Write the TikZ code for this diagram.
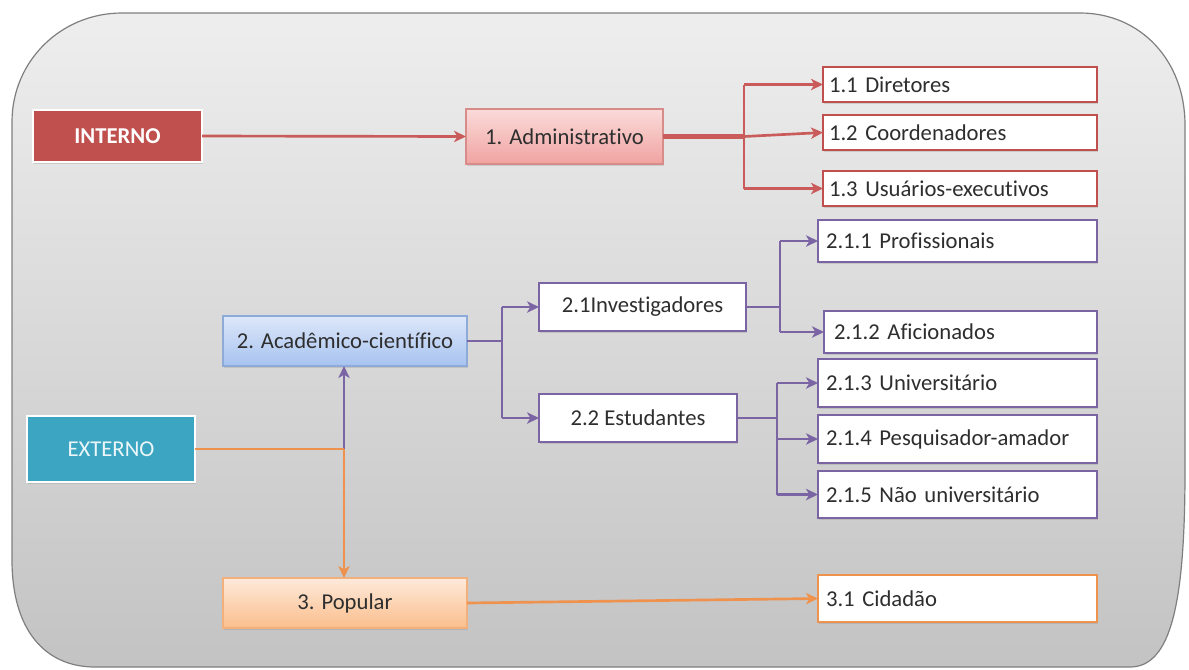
\documentclass[tikz,border=0pt]{standalone}
\usepackage{fontspec}
\setmainfont{Carlito}[Ligatures={NoCommon}]
\usetikzlibrary{arrows.meta,shadows,calc}
\definecolor{redA}{HTML}{C0504D}
\definecolor{redL}{HTML}{C95C5A}
\definecolor{redB}{HTML}{D88C8A}
\definecolor{purp}{HTML}{7B64A3}
\definecolor{orng}{HTML}{EE924E}
\definecolor{orngB}{HTML}{F2B07C}
\definecolor{tealA}{HTML}{3CA6C2}
\definecolor{txt}{HTML}{2E2E2E}
\definecolor{bgT}{HTML}{EEEEEE}
\definecolor{bgB}{HTML}{C3C3C3}
\definecolor{bgD}{HTML}{7F7F7F}
\definecolor{admT}{HTML}{FADBDA}
\definecolor{admB}{HTML}{F0A3A1}
\definecolor{acdT}{HTML}{DDE7F9}
\definecolor{acdB}{HTML}{A7C3F0}
\definecolor{acdD}{HTML}{8EAAD8}
\definecolor{popT}{HTML}{FDEADB}
\definecolor{popB}{HTML}{FBBE8C}
\begin{document}
\begin{tikzpicture}[x=0.75pt,y=-0.75pt,
  font=\fontsize{17}{20}\selectfont, text=txt,
  base/.style={draw, line width=1.8pt, inner ysep=0pt, outer sep=0pt,
    drop shadow={opacity=0.25, shadow xshift=1pt, shadow yshift=-1.5pt}},
  hdr/.style={base, draw=white, line width=2pt, text=white},
  mid/.style={base, align=center},
  leafr/.style={base, fill=white, draw=redA, inner xsep=4.5pt, text width=196.5pt, align=left, minimum height=26.25pt},
  leafp/.style={base, fill=white, draw=purp, inner xsep=6pt, align=left},
  leafo/.style={base, fill=white, draw=orng, inner xsep=6pt, align=left},
  tip/.style={-{Stealth[length=9pt,width=8.5pt,inset=2.5pt]}},
  rl/.style={draw=redL, line width=2pt},
  pl/.style={draw=purp, line width=2pt},
  ol/.style={draw=orng, line width=2pt}
]
\useasboundingbox (0,0) rectangle (1189,669);
% background panel
\shadedraw[top color=bgT, bottom color=bgB, draw=bgD, line width=0.9pt]
  (12,122) .. controls (12,61) and (61,13) .. (122,13) -- (1080,13)
  .. controls (1140,13) and (1185,60) .. (1185,125) -- (1185,470)
  .. controls (1185,600) and (1172,667) .. (1130,667) -- (95,667)
  .. controls (45,667) and (12,630) .. (12,560) -- cycle;

% level 0
\node[hdr, fill=redA, font=\fontsize{17}{20}\selectfont\bfseries, minimum width=126.75pt, minimum height=39pt] (int) at (117.5,136) {INTERNO};
\node[hdr, fill=tealA, text=white!90!tealA, minimum width=126pt, minimum height=49.5pt] (ext) at (111,449) {EXTERNO};

% level 1
\node[mid, draw=redB, top color=admT, bottom color=admB, minimum width=147.75pt, minimum height=41.25pt] (adm) at (564.5,136.5) {1. Administrativo};
\node[mid, draw=acdD, top color=acdT, bottom color=acdB, minimum width=183pt, minimum height=37.5pt] (acd) at (345,341) {2. Acadêmico-científico};
\node[mid, draw=orngB, top color=popT, bottom color=popB, minimum width=183pt, minimum height=37.5pt] (pop) at (345,603) {3. Popular};

% level 2
\node[mid, fill=white, draw=purp, minimum width=155.25pt, minimum height=36pt] (inv) at (642.5,307) {2.1Investigadores};
\node[mid, fill=white, draw=purp, minimum width=148.5pt, minimum height=36pt] (est) at (638,418) {2.2 Estudantes};

% leaves
\node[leafr] (l11) at (960,84.5) {1.1 Diretores};
\node[leafr] (l12) at (960,132.5) {1.2 Coordenadores};
\node[leafr] (l13) at (960,188.5) {1.3 Usuários-executivos};
\node[leafp, text width=197.25pt, minimum height=31.5pt] (l211) at (957.5,241) {2.1.1 Profissionais};
\node[leafp, inner xsep=7.5pt, text width=189.75pt, minimum height=31.5pt] (l212) at (960.5,332) {2.1.2 Aficionados};
\node[leafp, text width=197.25pt, minimum height=36pt] (l213) at (957.5,383) {2.1.3 Universitário};
\node[leafp, text width=197.25pt, minimum height=36pt] (l214) at (957.5,439) {2.1.4 Pesquisador-amador};
\node[leafp, text width=197.25pt, minimum height=35.25pt] (l215) at (957.5,494.5) {2.1.5 Não universitário};
\node[leafo, text width=197.25pt, minimum height=35.25pt] (cid) at (957.5,598.5) {3.1 Cidadão};

% junction points
\coordinate (ja) at (744,136.5);
\coordinate (ja1) at (744,84.5);
\coordinate (ja3) at (744,188.5);
\coordinate (jb) at (502,341);
\coordinate (jb1) at (502,307);
\coordinate (jb2) at (502,418);
\coordinate (jc) at (780,307);
\coordinate (jc1) at (780,241);
\coordinate (jc2) at (780,332);
\coordinate (jd) at (777,418);
\coordinate (jd1) at (777,383);
\coordinate (jd2) at (777,439);
\coordinate (jd3) at (777,494.5);
\coordinate (je) at (344,449);

% red connectors
\draw[rl, tip] (int.east) -- (adm.west);
\draw[rl, line width=4pt] (adm.east) -- (ja);
\draw[rl] (ja1) -- (ja3);
\draw[rl, tip] (ja1) -- (l11.west);
\draw[rl, tip] (ja) -- (l12.west);
\draw[rl, tip] (ja3) -- (l13.west);

% purple connectors
\draw[pl] (acd.east) -- (jb);
\draw[pl] (jb1) -- (jb2);
\draw[pl, tip] (jb1) -- (inv.west);
\draw[pl, tip] (jb2) -- (est.west);
\draw[pl] (inv.east) -- (jc);
\draw[pl] (jc1) -- (jc2);
\draw[pl, tip] (jc1) -- (l211.west);
\draw[pl, tip] (jc2) -- (l212.west);
\draw[pl] (est.east) -- (jd);
\draw[pl] (jd1) -- (jd3);
\draw[pl, tip] (jd1) -- (l213.west);
\draw[pl, tip] (jd2) -- (l214.west);
\draw[pl, tip] (jd3) -- (l215.west);
\draw[pl, tip] (je) -- (je |- acd.south);

% orange connectors
\draw[ol, tip] (je) -- (je |- pop.north);
\draw[ol] (ext.east) -- (je);
\draw[ol, tip] (pop.east) -- (cid.west);
\end{tikzpicture}
\end{document}
